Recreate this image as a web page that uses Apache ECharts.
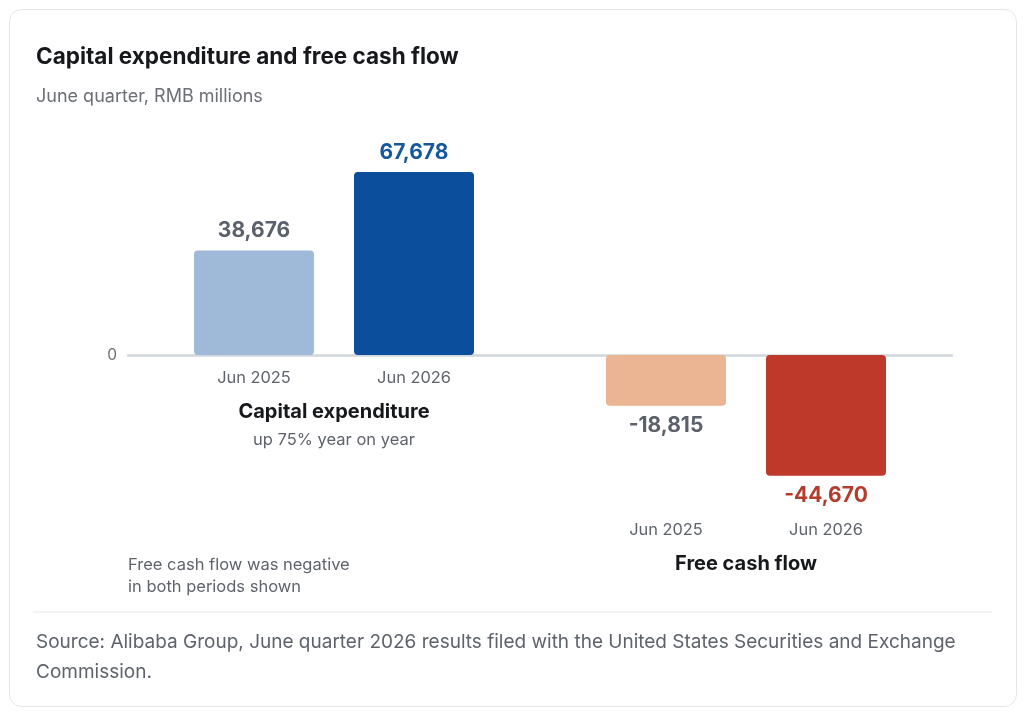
<!DOCTYPE html>
<html>
<head>
<meta charset="utf-8">
<script src="https://cdn.jsdelivr.net/npm/echarts@6/dist/echarts.min.js"></script>
<style>
  html, body { margin: 0; padding: 0; background: #ffffff; }
  #chart { width: 1024px; height: 714px; }
</style>
</head>
<body>
<div id="chart"></div>
<script>
// groups along the axis, and the two periods shown in each group
var groups = ['Capital expenditure', 'Free cash flow'];
var periods = ['Jun 2025', 'Jun 2026'];
var jun2025 = [38676, -18815];
var jun2026 = [67678, -44670];
var groupNotes = ['up 75% year on year', ''];

var barColors2025 = ['#9fbad9', '#ebb493'];
var barColors2026 = ['#0b4e9b', '#bf392b'];
var labelColors2025 = ['#5b606a', '#5b606a'];
var labelColors2026 = ['#17589c', '#b53b2d'];

var font = 'Inter, "Noto Sans", sans-serif';

function fmt(v) {
    return (v < 0 ? '-' : '') + Math.abs(v).toLocaleString('en-US');
}

function buildData(values, colors, labelColors) {
    return values.map(function (v, i) {
        return {
            value: v,
            itemStyle: { color: colors[i] },
            label: { color: labelColors[i] }
        };
    });
}

var valueLabel = {
    show: true,
    position: 'outside',
    distance: 9,
    fontSize: 21,
    fontWeight: 700,
    fontFamily: font,
    formatter: function (p) { return fmt(p.value); }
};

var myChart = echarts.init(document.getElementById('chart'));

var option = {
    animation: false,
    textStyle: { fontFamily: font },
    title: {
        text: 'Capital expenditure and free cash flow',
        subtext: 'June quarter, RMB millions',
        left: 31,
        top: 41,
        itemGap: 19,
        textStyle: { fontSize: 22.5, fontWeight: 650, color: '#17181b', fontFamily: font },
        subtextStyle: { fontSize: 18, color: '#6b6e74', fontFamily: font }
    },
    graphic: [
        {
            type: 'rect',
            z: -10,
            shape: { x: 9.5, y: 9.5, width: 1007, height: 697, r: 12 },
            style: { fill: '#ffffff', stroke: '#e4e6e9', lineWidth: 1 }
        },
        {
            type: 'line',
            shape: { x1: 33, y1: 612, x2: 992, y2: 612 },
            style: { stroke: '#e6e8eb', lineWidth: 1 }
        },
        {
            type: 'text',
            left: 128,
            top: 554,
            style: {
                text: 'Free cash flow was negative\nin both periods shown',
                fontSize: 16.5,
                lineHeight: 22,
                fill: '#5e636b',
                fontFamily: font
            }
        },
        {
            type: 'text',
            left: 36,
            top: 627,
            style: {
                text: 'Source: Alibaba Group, June quarter 2026 results filed with the United States Securities and Exchange\nCommission.',
                fontSize: 19,
                lineHeight: 30,
                fill: '#5e636b',
                fontFamily: font
            }
        }
    ],
    grid: [
        // bars
        { left: 128, right: 72, top: 138.7, bottom: 142.7, outerBoundsMode: 'none' },
        // upper half only, so its bottom edge sits on the zero line and carries the group labels
        { left: 128, right: 72, top: 138.7, bottom: 359, outerBoundsMode: 'none' }
    ],
    xAxis: [
        {
            type: 'category',
            gridIndex: 0,
            data: groups,
            axisLine: { show: true, onZero: true, lineStyle: { color: '#d1d5dc', width: 2.5 } },
            axisTick: { show: false },
            axisLabel: { show: false }
        },
        {
            type: 'category',
            gridIndex: 1,
            data: groups,
            axisLine: { show: false },
            axisTick: { show: false },
            axisLabel: {
                interval: 0,
                margin: 5,
                formatter: function (name, idx) {
                    var row = '{p|' + periods[0] + '}{p|' + periods[1] + '}';
                    if (groupNotes[idx]) {
                        return row + '\n{g|' + name + '}\n{s|' + groupNotes[idx] + '}';
                    }
                    return '{gap| }\n' + row + '\n{g|' + name + '}';
                },
                rich: {
                    gap: { height: 152, lineHeight: 152, fontSize: 1 },
                    p: { width: 160, align: 'center', fontSize: 16.4, lineHeight: 36, color: '#5e636b', fontFamily: font },
                    g: { fontSize: 20, fontWeight: 650, lineHeight: 32, color: '#17181b', fontFamily: font },
                    s: { fontSize: 16.5, lineHeight: 24, color: '#5e636b', fontFamily: font }
                }
            }
        }
    ],
    yAxis: [
        {
            type: 'value',
            gridIndex: 0,
            min: -80000,
            max: 80000,
            interval: 20000,
            axisLine: { show: false },
            axisTick: { show: false },
            splitLine: { show: false },
            axisLabel: {
                margin: 11,
                fontSize: 15.5,
                color: '#6b6e74',
                formatter: function (v) { return v === 0 ? '0' : ''; }
            }
        },
        {
            type: 'value',
            gridIndex: 1,
            min: 0,
            max: 80000,
            show: false
        }
    ],
    series: [
        {
            name: periods[0],
            type: 'bar',
            barWidth: 120,
            barGap: '33.333%',
            data: buildData(jun2025, barColors2025, labelColors2025),
            itemStyle: { borderRadius: 4 },
            label: valueLabel
        },
        {
            name: periods[1],
            type: 'bar',
            barWidth: 120,
            data: buildData(jun2026, barColors2026, labelColors2026),
            itemStyle: { borderRadius: 4 },
            label: valueLabel
        }
    ]
};

myChart.setOption(option);
</script>
</body>
</html>
